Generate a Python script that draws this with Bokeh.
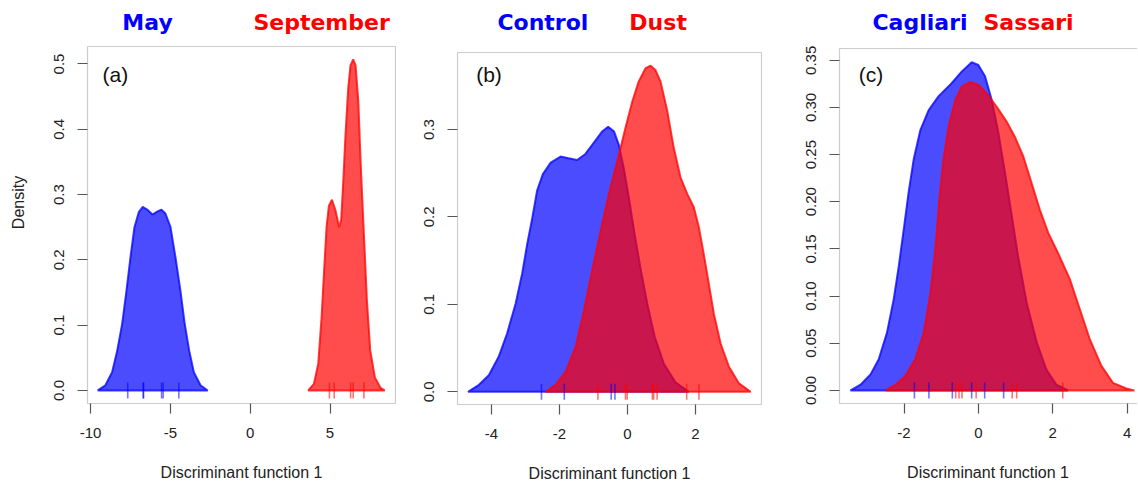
from bokeh.plotting import figure
from bokeh.layouts import row
from bokeh.models import FixedTicker, Label, Range1d, BoxAnnotation
from bokeh.embed import file_html
from bokeh.resources import INLINE

# ---------------- data ----------------
# Panel (a): May vs September
a_blue_x = [-9.55, -9.07, -8.65, -8.33, -8.02, -7.75, -7.50, -7.25, -6.98, -6.73, -6.45, -6.12,
            -5.83, -5.56, -5.31, -4.99, -4.68, -4.37, -4.10, -3.82, -3.53, -3.11, -2.66]
a_blue_y = [0, 0.008, 0.028, 0.061, 0.102, 0.153, 0.204, 0.250, 0.273, 0.281, 0.277, 0.2695,
            0.274, 0.277, 0.271, 0.250, 0.204, 0.153, 0.102, 0.061, 0.028, 0.008, 0]
a_red_x = [3.63, 3.99, 4.26, 4.47, 4.64, 4.78, 4.93, 5.12, 5.34, 5.57, 5.70, 5.82, 5.97, 6.14,
           6.28, 6.45, 6.60, 6.77, 6.93, 7.12, 7.31, 7.52, 7.81, 8.16, 8.43]
a_red_y = [0, 0.010, 0.041, 0.112, 0.189, 0.250, 0.283, 0.292, 0.276, 0.250, 0.262, 0.316, 0.393,
           0.464, 0.498, 0.507, 0.498, 0.444, 0.342, 0.240, 0.138, 0.061, 0.020, 0.004, 0]
a_blue_rug = [-7.67, -6.70, -6.68, -5.55, -5.45, -4.47]
a_red_rug = [4.96, 5.26, 6.29, 6.45, 7.12]
a_groups = ["May", "September"]
a_xticks = [-10, -5, 0, 5]
a_yticks = [0.0, 0.1, 0.2, 0.3, 0.4, 0.5]
a_ytick_labels = ["0.0", "0.1", "0.2", "0.3", "0.4", "0.5"]

# Panel (b): Control vs Dust
b_blue_x = [-4.69, -4.37, -4.08, -3.79, -3.54, -3.29, -3.10, -2.95, -2.80, -2.66, -2.49, -2.26,
            -1.97, -1.73, -1.48, -1.24, -0.99, -0.74, -0.57, -0.40, -0.26, -0.11, 0.04, 0.21,
            0.38, 0.58, 0.80, 1.07, 1.41, 1.80]
b_blue_y = [0, 0.008, 0.019, 0.040, 0.067, 0.101, 0.135, 0.169, 0.199, 0.230, 0.249, 0.262,
            0.269, 0.267, 0.265, 0.272, 0.285, 0.298, 0.303, 0.298, 0.283, 0.256, 0.222, 0.180,
            0.142, 0.101, 0.063, 0.032, 0.011, 0]
b_red_x = [-2.41, -2.12, -1.82, -1.53, -1.28, -1.04, -0.79, -0.55, -0.30, -0.06, 0.14, 0.33,
           0.53, 0.68, 0.82, 0.97, 1.17, 1.36, 1.56, 1.76, 1.95, 2.10, 2.24, 2.39, 2.54, 2.74,
           2.98, 3.27, 3.62]
b_red_y = [0, 0.008, 0.023, 0.051, 0.093, 0.139, 0.184, 0.226, 0.264, 0.302, 0.332, 0.355,
           0.370, 0.373, 0.368, 0.355, 0.321, 0.279, 0.245, 0.226, 0.211, 0.188, 0.158, 0.124,
           0.089, 0.055, 0.029, 0.010, 0]
b_blue_rug = [-2.53, -1.86, -0.48, -0.37]
b_red_rug = [-0.87, -0.06, -0.01, 0.73, 0.77, 0.87, 1.74, 2.10]
b_groups = ["Control", "Dust"]
b_xticks = [-4, -2, 0, 2]
b_yticks = [0.0, 0.1, 0.2, 0.3]
b_ytick_labels = ["0.0", "0.1", "0.2", "0.3"]

# Panel (c): Cagliari vs Sassari
c_blue_x = [-3.44, -3.17, -2.90, -2.68, -2.46, -2.28, -2.14, -2.01, -1.88, -1.74, -1.56, -1.34,
            -1.07, -0.76, -0.45, -0.18, 0.0, 0.18, 0.36, 0.54, 0.72, 0.90, 1.07, 1.30, 1.57,
            1.83, 2.10, 2.41]
c_blue_y = [0, 0.006, 0.017, 0.033, 0.061, 0.096, 0.132, 0.170, 0.209, 0.245, 0.276, 0.297,
            0.312, 0.324, 0.338, 0.348, 0.345, 0.333, 0.308, 0.273, 0.230, 0.185, 0.142, 0.093,
            0.051, 0.022, 0.006, 0]
c_red_x = [-2.50, -2.23, -1.97, -1.70, -1.47, -1.29, -1.16, -1.05, -0.94, -0.80, -0.62, -0.45,
           -0.22, 0.0, 0.22, 0.49, 0.76, 0.98, 1.21, 1.43, 1.65, 1.88, 2.14, 2.46, 2.73, 3.00,
           3.31, 3.62, 3.98, 4.20]
c_red_y = [0, 0.006, 0.015, 0.033, 0.061, 0.103, 0.149, 0.202, 0.245, 0.280, 0.308, 0.322,
           0.327, 0.324, 0.315, 0.301, 0.285, 0.269, 0.248, 0.220, 0.192, 0.167, 0.146, 0.118,
           0.086, 0.054, 0.026, 0.008, 0.002, 0]
c_blue_rug = [-1.72, -1.33, -0.70, -0.18, 0.17, 0.68]
c_red_rug = [-0.61, -0.52, -0.44, -0.06, 0.91, 1.03, 2.27]
c_groups = ["Cagliari", "Sassari"]
c_xticks = [-2, 0, 2, 4]
c_yticks = [0.0, 0.05, 0.10, 0.15, 0.20, 0.25, 0.30, 0.35]
c_ytick_labels = ["0.00", "0.05", "0.10", "0.15", "0.20", "0.25", "0.30", "0.35"]

x_label = "Discriminant function 1"
y_label = "Density"

BLUE = "#0000FF"
RED = "#FF0000"
TICK_FONT = "Liberation Sans"
TITLE_FONT = "DejaVu Sans"
BOX = "#555555"
TITLE_BASE = 21.5   # page y used to place the group titles
TAG_BASE = 74.0     # page y used to place the (a)/(b)/(c) tags


def panel(box_x, box_y, bl, bw, br, tp, bh, fig_h, pad_r,
          xticks, yticks, ylabels, bx, by, rx, ry, brug, rrug,
          groups, gx, tag, tag_x, ylab=None):
    x0, x1 = box_x
    y0, y1 = box_y
    sx = (x1 - x0) / bw
    sy = (y1 - y0) / bh
    fw = bw + 1 + pad_r
    fh = tp + bh + 1
    xr = (x0 - sx, x1 + pad_r * sx)
    yr = (y0 - sy, y1 + tp * sy)
    p = figure(frame_width=fw, frame_height=fh,
               x_range=Range1d(*xr), y_range=Range1d(*yr),
               min_border_left=bl - 1, min_border_right=br - pad_r if br - pad_r > 0 else 0,
               min_border_top=0, min_border_bottom=fig_h - fh,
               output_backend="svg", toolbar_location=None)
    p.grid.visible = False
    p.outline_line_color = None
    p.background_fill_color = "white"
    p.border_fill_color = "white"

    for ax in (p.xaxis[0], p.yaxis[0]):
        ax.axis_line_color = None
        ax.major_tick_line_color = BOX
        ax.major_tick_line_width = 1.2
        ax.major_tick_out = 9
        ax.major_tick_in = 1
        ax.minor_tick_line_color = None
        ax.major_label_text_font = TICK_FONT
        ax.major_label_text_font_size = "15px"
        ax.major_label_text_color = "#222222"
        ax.axis_label_text_font = TICK_FONT
        ax.axis_label_text_font_size = "16px"
        ax.axis_label_text_font_style = "normal"
        ax.axis_label_text_color = "#222222"

    p.xaxis.ticker = FixedTicker(ticks=xticks)
    p.xaxis.major_label_overrides = {t: str(t) for t in xticks}
    p.xaxis.major_label_standoff = 14
    p.xaxis.axis_label = x_label
    p.xaxis.axis_label_standoff = 23

    p.yaxis.ticker = FixedTicker(ticks=yticks)
    p.yaxis.major_label_overrides = {t: s for t, s in zip(yticks, ylabels)}
    p.yaxis.major_label_orientation = "vertical"
    p.yaxis.major_label_standoff = 13
    if ylab:
        p.yaxis.axis_label = ylab
        p.yaxis.axis_label_standoff = 25

    # the R-style box (only up to the box top, titles sit above it)
    p.add_layout(BoxAnnotation(left=x0, right=x1 if pad_r > 0 else x1 + 50 * sx,
                               bottom=y0, top=y1,
                               fill_alpha=0, line_color=BOX, line_width=1.2, level="underlay"))

    # densities: blue first, red on top
    p.patch(bx, by, fill_color=BLUE, fill_alpha=0.7, line_color=BLUE, line_alpha=0.75, line_width=2)
    p.patch(rx, ry, fill_color=RED, fill_alpha=0.7, line_color=RED, line_alpha=0.75, line_width=2)

    # rugs (half length ~8 px)
    half = 8.0 * sy
    p.segment(x0=brug, y0=[-half] * len(brug), x1=brug, y1=[half] * len(brug),
              line_color=BLUE, line_alpha=0.55, line_width=1.6)
    p.segment(x0=rrug, y0=[-half] * len(rrug), x1=rrug, y1=[half] * len(rrug),
              line_color=RED, line_alpha=0.55, line_width=1.6)

    # coloured group titles above the box
    y_title = y1 + (tp - TITLE_BASE) * sy
    for name, xx, col in zip(groups, gx, (BLUE, RED)):
        p.add_layout(Label(x=xx, y=y_title, text=name, text_color=col,
                           text_font=TITLE_FONT, text_font_style="bold",
                           text_font_size="22px", text_align="center",
                           text_baseline="alphabetic"))
    y_tag = y1 - (TAG_BASE - tp) * sy
    p.add_layout(Label(x=tag_x, y=y_tag, text=tag, text_color="#111111",
                       text_font=TICK_FONT, text_font_size="21px",
                       text_align="left", text_baseline="alphabetic"))
    return p


pa = panel((-10.19, 9.10), (-0.0200, 0.5268), 87, 308, 10, 46, 357, 483, 1,
           a_xticks, a_yticks, a_ytick_labels,
           a_blue_x, a_blue_y, a_red_x, a_red_y, a_blue_rug, a_red_rug,
           a_groups, [-6.43, 4.47], "(a)", -9.25, ylab=y_label)

pb = panel((-5.0, 3.94), (-0.0145, 0.388), 52, 304, 10, 52, 352, 483, 1,
           b_xticks, b_yticks, b_ytick_labels,
           b_blue_x, b_blue_y, b_red_x, b_red_y, b_blue_rug, b_red_rug,
           b_groups, [-2.49, 0.90], "(b)", -4.45)

pc = panel((-3.735, 4.28), (-0.0139, 0.3625), 68, 298, 0, 48, 355, 483, 0,
           c_xticks, c_yticks, c_ytick_labels,
           c_blue_x, c_blue_y, c_red_x, c_red_y, c_blue_rug, c_red_rug,
           c_groups, [-1.57, 1.35], "(c)", -3.22)

layout = row(pa, pb, pc)
open("out.html", "w").write(file_html(layout, INLINE))
